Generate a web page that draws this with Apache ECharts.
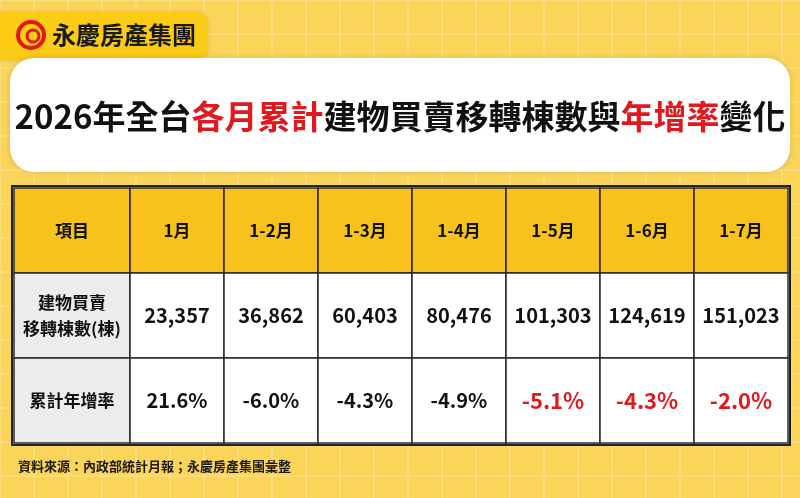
<!DOCTYPE html>
<html><head><meta charset="utf-8">
<script src="https://cdn.jsdelivr.net/npm/echarts@6/dist/echarts.min.js"></script>
<style>html,body{margin:0;padding:0;}#c{width:800px;height:498px;}</style>
</head><body><div id="c"></div>
<script>
const periods = ['1月','1-2月','1-3月','1-4月','1-5月','1-6月','1-7月'];
const rowLabels = ['項目','建物買賣\n移轉棟數(棟)','累計年增率'];
const transfers = ['23,357','36,862','60,403','80,476','101,303','124,619','151,023'];
const growth = ['21.6%','-6.0%','-4.3%','-4.9%','-5.1%','-4.3%','-2.0%'];
const growthRed = [false,false,false,false,true,true,true];

const F = '"Noto Sans CJK TC","Noto Sans",sans-serif';
const rows = ['h','t','g'];
const labelData = rowLabels.map((t,i)=>[0,rows[i],t,i===0?'head':'side']);
const cellData = [];
periods.forEach((p,i)=>{
  cellData.push([p,'h',p,'head']);
  cellData.push([p,'t',transfers[i],'cell']);
  cellData.push([p,'g',growth[i],growthRed[i]?'red':'cell']);
});
function render(params, api){
  const c = api.coord([api.value(0), api.value(1)]);
  const s = api.size([1,1]);
  const type = api.value(3);
  const fill = type==='head' ? '#f7c21b' : type==='side' ? '#ececec' : '#ffffff';
  const color = type==='red' ? '#e0191f' : '#111';
  const fs = type==='side' ? 17 : (type==='head' ? 17 : (type==='red' ? 22 : 20));
  return {type:'group',children:[
    {type:'rect',shape:{x:c[0]-s[0]/2,y:c[1]-s[1]/2,width:s[0],height:s[1]},
     style:{fill:fill,stroke:'#2a2a2a',lineWidth:1.5}},
    {type:'text',x:c[0],y:c[1],style:{text:api.value(2),fill:color,font:'bold '+fs+'px '+F,
     align:'center',verticalAlign:'middle',lineHeight:26}}
  ]};
}
const bgLines=[];
for(let x=0;x<=800;x+=34) bgLines.push({type:'line',shape:{x1:x,y1:0,x2:x,y2:498},style:{stroke:'rgba(255,255,255,0.35)',lineWidth:1},silent:true});
for(let y=0;y<=498;y+=34) bgLines.push({type:'line',shape:{x1:0,y1:y,x2:800,y2:y},style:{stroke:'rgba(255,255,255,0.35)',lineWidth:1},silent:true});

const chart = echarts.init(document.getElementById('c'));
chart.setOption({
  backgroundColor:'#fbd55a',
  graphic:[
    {type:'group',children:bgLines,z:-10},
    {type:'rect',shape:{x:-10,y:12,width:218,height:48,r:12},style:{fill:'#fbcb16',shadowBlur:4,shadowColor:'rgba(0,0,0,0.15)'}},
    {type:'circle',shape:{cx:31,cy:35,r:13},style:{fill:'none',stroke:'#e0191f',lineWidth:4}},
    {type:'circle',shape:{cx:33,cy:36,r:6},style:{fill:'none',stroke:'#e0191f',lineWidth:3}},
    {type:'text',x:52,y:35,style:{text:'永慶房產集團',font:'bold 24px '+F,fill:'#1a1a1a',verticalAlign:'middle'}},
    {type:'rect',shape:{x:10,y:58,width:780,height:114,r:24},style:{fill:'#ffffff',shadowBlur:6,shadowColor:'rgba(0,0,0,0.15)'}},
    {type:'text',x:400,y:116,style:{rich:{
        k:{font:'bold 33px '+F,fill:'#111'},r:{font:'bold 33px '+F,fill:'#e0191f'}},
      text:'{k|2026年全台}{r|各月累計}{k|建物買賣移轉棟數與}{r|年增率}{k|變化}',
      align:'center',verticalAlign:'middle'}},
    {type:'rect',shape:{x:12,y:186,width:778,height:259},style:{fill:'#fff',stroke:'#222',lineWidth:2}},
    {type:'text',x:18,y:466,style:{text:'資料來源：內政部統計月報；永慶房產集團彙整',font:'bold 13px '+F,fill:'#1a1a1a',verticalAlign:'middle'}}
  ],
  grid:[
    {left:14,width:116,top:188,height:255},
    {left:130,right:12,top:188,height:255}
  ],
  xAxis:[
    {type:'category',data:[0],gridIndex:0,show:false},
    {type:'category',data:periods,gridIndex:1,show:false}
  ],
  yAxis:[
    {type:'category',data:rows,inverse:true,gridIndex:0,show:false},
    {type:'category',data:rows,inverse:true,gridIndex:1,show:false}
  ],
  series:[
    {type:'custom',xAxisIndex:0,yAxisIndex:0,data:labelData,renderItem:render},
    {type:'custom',xAxisIndex:1,yAxisIndex:1,data:cellData,renderItem:render}
  ]
});
</script></body></html>
